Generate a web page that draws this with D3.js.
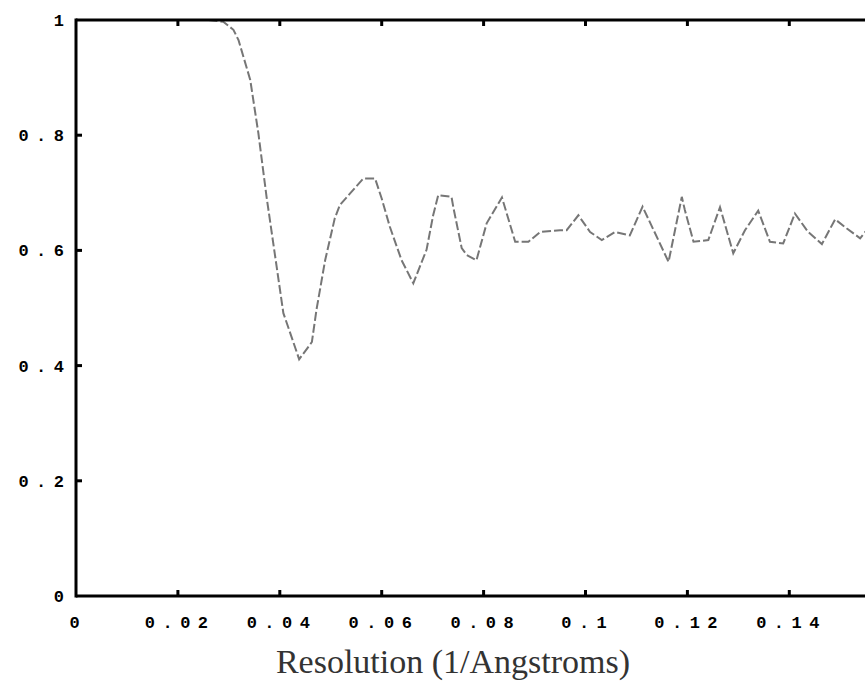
<!DOCTYPE html>
<html>
<head>
<meta charset="utf-8">
<script src="https://cdn.jsdelivr.net/npm/d3@7"></script>
<style>
  html, body { margin: 0; padding: 0; background: #fff; overflow: hidden; }
  svg { display: block; }
</style>
</head>
<body>
<script>
// ---- data ----
const resolution = [
  0.0260, 0.0289, 0.0309, 0.0319, 0.0342, 0.0358, 0.0374, 0.0391, 0.0407, 0.0423,
  0.0438, 0.0463, 0.0472, 0.0489, 0.0508, 0.0518, 0.0538, 0.0564, 0.0587, 0.0600,
  0.0616, 0.0639, 0.0662, 0.0688, 0.0701, 0.0711, 0.0737, 0.0741, 0.0757, 0.0767,
  0.0786, 0.0806, 0.0836, 0.0862, 0.0888, 0.0911, 0.0950, 0.0963, 0.0986, 0.1009,
  0.1032, 0.1058, 0.1087, 0.1112, 0.1163, 0.1189, 0.1195, 0.1212, 0.1241, 0.1264,
  0.1290, 0.1313, 0.1339, 0.1362, 0.1388, 0.1411, 0.1437, 0.1464, 0.1490, 0.1513,
  0.1539, 0.1549, 0.1565
];
const fsc = [
  1.000, 0.997, 0.983, 0.965, 0.896, 0.803, 0.693, 0.589, 0.491, 0.450,
  0.411, 0.441, 0.497, 0.583, 0.656, 0.679, 0.699, 0.725, 0.725, 0.690,
  0.641, 0.583, 0.543, 0.601, 0.661, 0.696, 0.693, 0.673, 0.604, 0.592,
  0.583, 0.647, 0.692, 0.615, 0.615, 0.632, 0.635, 0.635, 0.661, 0.632,
  0.618, 0.632, 0.626, 0.676, 0.580, 0.693, 0.670, 0.615, 0.618, 0.675,
  0.595, 0.635, 0.669, 0.615, 0.612, 0.664, 0.632, 0.611, 0.654, 0.638,
  0.621, 0.632, 0.645
];
const xTicks = [0, 0.02, 0.04, 0.06, 0.08, 0.1, 0.12, 0.14];
const xTickLabels = ["0", "0.02", "0.04", "0.06", "0.08", "0.1", "0.12", "0.14"];
const yTicks = [0, 0.2, 0.4, 0.6, 0.8, 1];
const yTickLabels = ["0", "0.2", "0.4", "0.6", "0.8", "1"];
const xTitle = "Resolution (1/Angstroms)";

(function () {
  // ---- layout ----
  const W = 865, H = 682;
  const pLeft = 76, pTop = 20, pBottom = 596;
  const pxPerUnit = 5095;
  const pRight = pLeft + 0.17 * pxPerUnit;

  const svg = d3.select("body").append("svg")
    .attr("width", W).attr("height", H);

  const x = d3.scaleLinear().domain([0, 0.17]).range([pLeft, pRight]);
  const y = d3.scaleLinear().domain([0, 1]).range([pBottom, pTop]);

  const tickFont = "'Liberation Mono', 'Courier New', monospace";
  const fs = 17;
  const ls = 7.5;
  const cw = 0.6 * fs;
  const textW = s => s.length * cw + (s.length - 1) * ls;

  svg.append("clipPath").attr("id", "plotclip")
    .append("rect").attr("x", pLeft).attr("y", pTop - 2)
    .attr("width", pRight - pLeft).attr("height", pBottom - pTop + 4);

  // data line
  const pts = resolution.map((r, i) => [r, fsc[i]]);
  svg.append("path")
    .datum(pts)
    .attr("clip-path", "url(#plotclip)")
    .attr("fill", "none")
    .attr("stroke", "#767676")
    .attr("stroke-width", 2)
    .attr("stroke-dasharray", "9,3")
    .attr("d", d3.line().x(d => x(d[0])).y(d => y(d[1])));

  // axes frame (left, top, bottom)
  const frame = svg.append("g").attr("stroke", "#000").attr("stroke-width", 3).attr("fill", "none");
  frame.append("line").attr("x1", pLeft).attr("x2", pLeft).attr("y1", pTop - 1.5).attr("y2", pBottom + 1.5);
  frame.append("line").attr("x1", pLeft).attr("x2", W + 5).attr("y1", pTop).attr("y2", pTop);
  frame.append("line").attr("x1", pLeft).attr("x2", W + 5).attr("y1", pBottom).attr("y2", pBottom);

  // ticks
  const tg = svg.append("g").attr("stroke", "#000").attr("stroke-width", 3);
  xTicks.forEach(t => {
    if (t === 0) return;
    tg.append("line").attr("x1", x(t)).attr("x2", x(t)).attr("y1", pTop).attr("y2", pTop + 6);
    tg.append("line").attr("x1", x(t)).attr("x2", x(t)).attr("y1", pBottom).attr("y2", pBottom - 6);
  });
  yTicks.forEach(t => {
    if (t === 0 || t === 1) return;
    tg.append("line").attr("x1", pLeft).attr("x2", pLeft + 6).attr("y1", y(t)).attr("y2", y(t));
  });

  // x tick labels
  svg.append("g").selectAll("text").data(xTicks).join("text")
    .attr("x", (d, i) => x(d) - 1.5 - textW(xTickLabels[i]) / 2)
    .attr("y", pBottom + 32)
    .attr("text-anchor", "start")
    .attr("font-family", tickFont)
    .attr("font-weight", "bold")
    .attr("font-size", fs)
    .style("letter-spacing", ls + "px")
    .attr("fill", "#000")
    .text((d, i) => xTickLabels[i]);

  // y tick labels
  svg.append("g").selectAll("text").data(yTicks).join("text")
    .attr("x", (d, i) => 64 - textW(yTickLabels[i]))
    .attr("y", d => y(d) + 6)
    .attr("text-anchor", "start")
    .attr("font-family", tickFont)
    .attr("font-weight", "bold")
    .attr("font-size", fs)
    .style("letter-spacing", ls + "px")
    .attr("fill", "#000")
    .text((d, i) => yTickLabels[i]);

  // x axis title
  svg.append("text")
    .attr("x", 453)
    .attr("y", 673)
    .attr("text-anchor", "middle")
    .attr("font-family", "'Liberation Serif', 'Times New Roman', serif")
    .attr("font-size", 34)
    .attr("fill", "#333")
    .text(xTitle);
})();
</script>
</body>
</html>
